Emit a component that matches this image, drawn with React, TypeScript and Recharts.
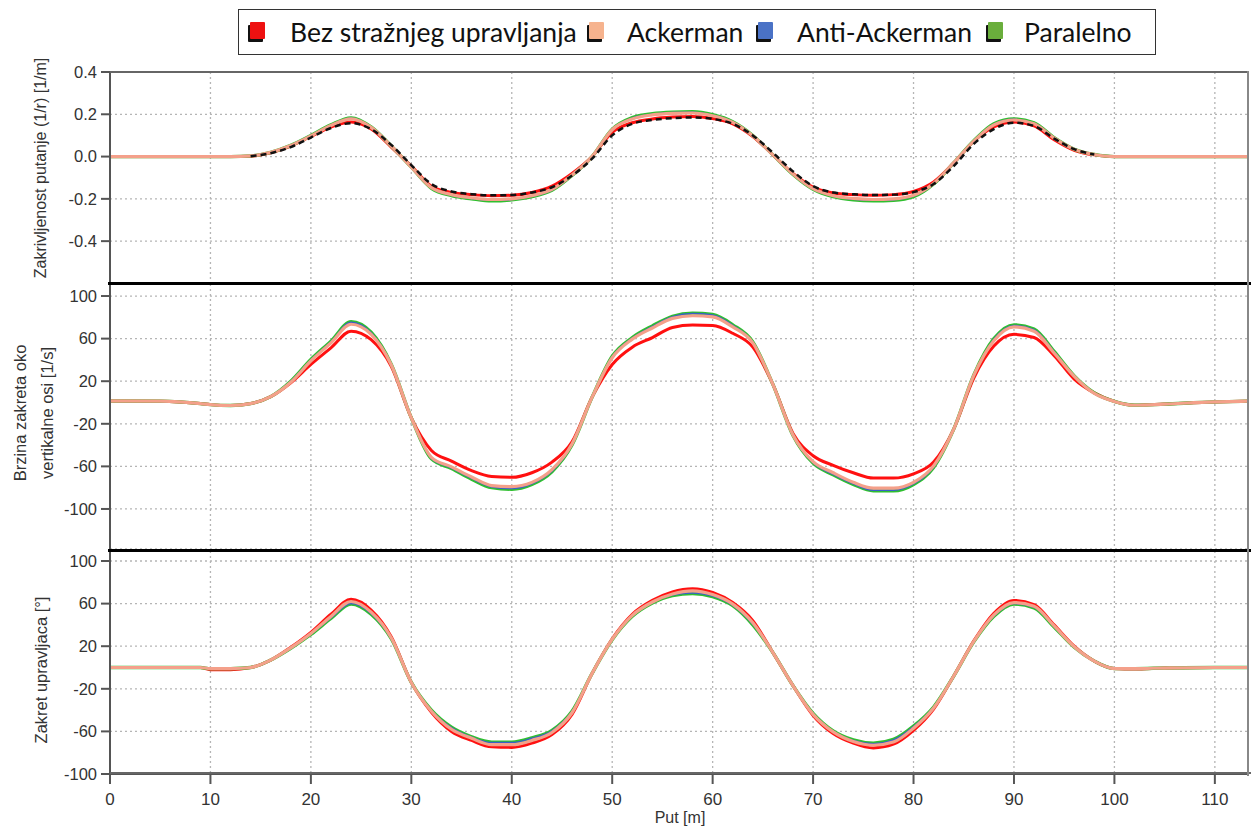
import React from 'react';
import { LineChart, Line, XAxis, YAxis, CartesianGrid } from 'recharts';

// ---------- data ----------
const xs = [0, 5, 9, 10, 12, 14, 16, 18, 20, 22, 24, 26, 28, 30, 32, 34, 36, 38, 40, 42, 44, 46, 48, 50, 52, 54, 56, 58, 60, 62, 64, 66, 68, 70, 72, 74, 76, 78, 80, 82, 84, 86, 88, 90, 92, 94, 96, 98, 100, 102, 105, 110, 113.3];

const seriesNames = ['Bez stražnjeg upravljanja', 'Ackerman', 'Anti-Ackerman', 'Paralelno'];
const xTicks = [0, 10, 20, 30, 40, 50, 60, 70, 80, 90, 100, 110];

// Panel 1: Zakrivljenost putanje
const p1Ticks = [-0.4, -0.2, 0, 0.2, 0.4];
const p1Bez = [0, 0, 0, 0, 0, 0.002, 0.018, 0.05, 0.095, 0.14, 0.163, 0.13, 0.045, -0.045, -0.14, -0.17, -0.18, -0.185, -0.183, -0.17, -0.14, -0.08, 0.0, 0.115, 0.16, 0.178, 0.187, 0.19, 0.18, 0.155, 0.095, 0.008, -0.08, -0.145, -0.172, -0.18, -0.183, -0.18, -0.165, -0.12, -0.03, 0.072, 0.14, 0.163, 0.145, 0.08, 0.03, 0.008, 0, 0, 0, 0, 0];
const p1Ack = [0, 0, 0, 0, 0, 0.003, 0.02, 0.052, 0.098, 0.147, 0.178, 0.138, 0.05, -0.05, -0.147, -0.18, -0.195, -0.203, -0.2, -0.185, -0.155, -0.087, 0.0, 0.127, 0.178, 0.197, 0.204, 0.206, 0.193, 0.162, 0.098, 0.008, -0.083, -0.152, -0.185, -0.198, -0.203, -0.2, -0.183, -0.127, -0.03, 0.073, 0.15, 0.173, 0.155, 0.087, 0.034, 0.01, 0, 0, 0, 0, 0];
const p1Anti = [0, 0, 0, 0, 0, 0.003, 0.02, 0.053, 0.099, 0.149, 0.181, 0.139, 0.05, -0.05, -0.149, -0.183, -0.198, -0.207, -0.203, -0.188, -0.158, -0.089, 0.0, 0.129, 0.182, 0.2, 0.208, 0.21, 0.196, 0.164, 0.099, 0.008, -0.084, -0.154, -0.188, -0.202, -0.207, -0.204, -0.187, -0.129, -0.03, 0.074, 0.153, 0.176, 0.158, 0.089, 0.035, 0.01, 0, 0, 0, 0, 0];
const p1Par = [0, 0, 0, 0, 0, 0.003, 0.02, 0.053, 0.1, 0.15, 0.183, 0.14, 0.05, -0.05, -0.15, -0.185, -0.2, -0.21, -0.205, -0.19, -0.16, -0.09, 0.0, 0.13, 0.185, 0.203, 0.21, 0.212, 0.198, 0.165, 0.1, 0.008, -0.085, -0.155, -0.19, -0.205, -0.21, -0.207, -0.19, -0.13, -0.03, 0.075, 0.155, 0.178, 0.16, 0.09, 0.035, 0.01, 0, 0, 0, 0, 0];
const p1Ref = [null, null, null, null, null, 0.002, 0.016, 0.045, 0.09, 0.135, 0.158, 0.13, 0.055, -0.04, -0.13, -0.165, -0.178, -0.183, -0.182, -0.17, -0.145, -0.09, -0.01, 0.1, 0.155, 0.173, 0.182, 0.185, 0.178, 0.155, 0.1, 0.018, -0.07, -0.14, -0.17, -0.178, -0.182, -0.18, -0.168, -0.13, -0.045, 0.06, 0.13, 0.16, 0.145, 0.085, 0.035, 0.01, null, null, null, null, null];

// Panel 2: Brzina zakreta oko vertikalne osi
const p2Ticks = [-100, -60, -20, 20, 60, 100];
const p2Bez = [1.5, 1.2, -1, -2, -2.8, -1, 5.5, 18.5, 35.7, 51.3, 67, 59, 34, -14.5, -45, -55, -64, -69.5, -70.3, -66, -56, -37, 5, 35.7, 52, 61, 70.5, 72.7, 72.4, 65, 52, 17, -29, -50, -59, -66, -71, -71, -67, -56, -25, 23, 53, 64, 61, 44, 22, 9, 1, -2.6, -1.5, 0.5, 1.2];
const p2Ack = [1.5, 1.2, -1, -2, -2.8, -1, 5.5, 19, 39, 56, 73.5, 64, 35.5, -14.5, -51.5, -60.5, -70, -78, -79, -75, -63, -39, 5, 42, 59.5, 70, 79, 81.5, 80.5, 71, 56, 17, -30.5, -55.5, -66, -75, -80.5, -80.5, -75, -59.5, -25, 25.5, 58, 71, 67, 46.5, 24.5, 8.5, 1, -2.6, -1.5, 0.5, 1.2];
const p2Anti = [1.5, 1.2, -1, -2, -2.8, -1, 5.5, 19.8, 40, 57, 75.3, 65.5, 36, -14.5, -52.5, -61.5, -71.3, -79.3, -80.8, -76.3, -64.5, -39.8, 5, 43, 60.5, 71.4, 80.5, 83.5, 82.2, 72.5, 56.7, 17, -30.8, -56.5, -67.5, -76.4, -82.4, -82.4, -76.4, -60.6, -25, 25.8, 59.5, 72.4, 68.4, 47.6, 24.8, 8.8, 1, -2.6, -1.5, 0.5, 1.2];
const p2Par = [1.5, 1.2, -1, -2, -2.8, -1, 5.5, 20, 40.4, 57.6, 76, 66, 36, -14.5, -53, -62, -72, -80, -81.5, -77, -65, -40, 5, 43.5, 61, 72, 81, 84, 82.7, 73, 57, 17, -31, -57, -68, -77, -83, -83, -77, -61, -25, 26, 60, 73, 69, 48, 25, 9, 1, -2.6, -1.5, 0.5, 1.2];

// Panel 3: Zakret upravljaca
const p3Ticks = [-100, -60, -20, 20, 60, 100];
const p3Bez = [0, 0, 0, -2, -2, 0, 7, 19, 33, 50, 64, 54, 29, -14, -42, -60, -68.5, -74.5, -75, -71, -63, -44, -5.5, 27, 50, 63, 71, 74, 70.5, 61, 44, 14, -17, -45, -62, -71, -75.5, -72, -59, -39, -8, 25, 51, 63, 59, 40, 20, 6, -1, -1.5, -0.5, 0, 0];
const p3Ack = [0, 0, 0, -1, -1, 0, 7, 18.5, 32, 48, 62, 52, 28, -14, -41, -58, -66.5, -72.5, -72.5, -68.5, -61, -42.5, -5.5, 26.5, 49, 61.5, 69, 72, 68.5, 59.5, 42, 14, -17, -44, -60.5, -69.5, -73, -70, -57, -38, -8, 24.5, 49.5, 61, 57.5, 39, 19.5, 6, -1, -1, -0.5, 0, 0];
const p3Anti = [0, 0, 0, -1, -1, 0, 7, 18, 31.3, 46.5, 60, 50.5, 27, -14, -40.3, -56.5, -65.5, -70.5, -70.5, -66.5, -59.5, -41.3, -5.5, 26.2, 48.3, 61, 68, 70, 67, 58.3, 40.5, 14, -17, -43.3, -60, -68.5, -71.5, -68, -55.5, -37.3, -8, 24.2, 48.3, 60, 56.5, 38.3, 19.2, 6, -1, -1, -0.5, 0, 0];
const p3Par = [0, 0, 0, -1, -1, 0, 7, 18, 31, 46, 59.5, 50, 27, -14, -40, -56, -65, -70, -70, -66, -59, -41, -5.5, 26, 48, 60.5, 67.5, 69.5, 66.5, 58, 40, 14, -17, -43, -59.5, -68, -71, -67.5, -55, -37, -8, 24, 48, 59.5, 56, 38, 19, 6, -1, -1, -0.5, 0, 0];

// ---------- styling ----------
const FONT = '"Liberation Sans", Arial, sans-serif';
const C_BEZ = '#ff1010';
const C_ACK = '#f4a08a';
const C_ANTI = '#3a5fc8';
const C_PAR = '#2fbf2f';
const LEG_COLORS = ['#ee1111', '#f6b38e', '#4a72c6', '#6aae3c'];

const build = (a: number[], b: number[], c: number[], d: number[], r?: (number | null)[]) =>
  xs.map((x, i) => ({ x, bez: a[i], ack: b[i], anti: c[i], par: d[i], ref: r ? r[i] : null }));

const data1 = build(p1Bez, p1Ack, p1Anti, p1Par, p1Ref);
const data2 = build(p2Bez, p2Ack, p2Anti, p2Par);
const data3 = build(p3Bez, p3Ack, p3Anti, p3Par);

const tickStyle = { fill: '#333', fontSize: 16.5, fontFamily: FONT };

type PanelProps = {
  data: any[];
  domain: [number, number];
  ticks: number[];
  fmt?: (v: number) => string;
  top: number;
  height: number;
  mTop: number;
  mBottom: number;
  showX?: boolean;
  withRef?: boolean;
};

function Panel({ data, domain, ticks, fmt, top, height, mTop, mBottom, showX, withRef }: PanelProps) {
  return (
    <div style={{ position: 'absolute', left: 0, top }}>
      <LineChart width={1251} height={height} data={data} margin={{ top: mTop, right: 3, left: 50, bottom: mBottom }}>
        <CartesianGrid stroke="#b5b5b5" strokeDasharray="2 3" strokeWidth={1.3} />
        <XAxis
          dataKey="x"
          type="number"
          domain={[0, 113.3]}
          ticks={xTicks}
          allowDataOverflow
          hide={!showX}
          height={30}
          tickSize={10}
          tickMargin={9}
          tick={{ ...tickStyle, fontSize: 17 }}
          stroke="#555"
          strokeWidth={2}
        />
        <YAxis
          type="number"
          domain={domain}
          ticks={ticks}
          allowDataOverflow
          width={60}
          tickSize={9}
          tickMargin={4}
          tick={tickStyle}
          tickFormatter={fmt}
          stroke="#555"
          strokeWidth={2}
          interval={0}
        />
        <Line type="monotone" dataKey="bez" stroke={C_BEZ} strokeWidth={3} dot={false} isAnimationActive={false} />
        <Line type="monotone" dataKey="par" stroke={C_PAR} strokeWidth={3.3} dot={false} isAnimationActive={false} />
        <Line type="monotone" dataKey="anti" stroke={C_ANTI} strokeWidth={1.5} dot={false} isAnimationActive={false} />
        <Line type="monotone" dataKey="ack" stroke={C_ACK} strokeWidth={3.2} dot={false} isAnimationActive={false} />
        {withRef && (
          <Line type="monotone" dataKey="ref" stroke="#111" strokeWidth={2.5} strokeDasharray="6 4" dot={false} connectNulls={false} isAnimationActive={false} />
        )}
      </LineChart>
    </div>
  );
}

const hLine = (top: number, left: number, width: number, color: string, h: number) => (
  <div style={{ position: 'absolute', top, left, width, height: h, background: color }} />
);

const legendItems = [
  { box: 250, text: 290 },
  { box: 589, text: 627 },
  { box: 758, text: 797 },
  { box: 988, text: 1024 },
];

export default function App() {
  return (
    <div style={{ position: 'absolute', left: 0, top: 0, width: 1251, height: 830, background: '#fff', fontFamily: FONT, overflow: 'hidden' }}>
      {/* Legend */}
      <div style={{ position: 'absolute', left: 238, top: 9, width: 916, height: 44, border: '1.5px solid #333', background: '#fff' }} />
      {legendItems.map((it, i) => (
        <React.Fragment key={i}>
          <div style={{ position: 'absolute', left: it.box, top: 22, width: 15, height: 17, background: LEG_COLORS[i], boxShadow: '-2px 3px 0 #111', borderRadius: 1 }} />
          <div style={{ position: 'absolute', left: it.text, top: 14, fontSize: 26.5, lineHeight: '36px', fontFamily: 'Lato, "Open Sans", sans-serif', color: '#111', whiteSpace: 'nowrap' }}>
            {seriesNames[i]}
          </div>
        </React.Fragment>
      ))}

      <Panel data={data1} domain={[-0.598, 0.4]} ticks={p1Ticks} fmt={(v) => v.toFixed(1)} top={60} height={224} mTop={12} mBottom={1} withRef />
      <Panel data={data2} domain={[-137.6, 111.3]} ticks={p2Ticks} top={283} height={267} mTop={1} mBottom={1} />
      <Panel data={data3} domain={[-100, 109.4]} ticks={p3Ticks} top={549} height={281} mTop={2} mBottom={26} showX />

      {/* frame lines */}
      {hLine(71, 110, 1138, '#666', 2)}
      {hLine(282, 108, 1143, '#000', 2.5)}
      {hLine(549, 108, 1143, '#000', 2.5)}
      {hLine(772, 110, 1141, '#666', 1.5)}
      <div style={{ position: 'absolute', left: 1247, top: 71, width: 1.5, height: 705, background: '#888' }} />

      {/* axis titles */}
      <div style={{ position: 'absolute', left: 41, top: 168, transform: 'translate(-50%, -50%) rotate(-90deg)', fontSize: 16, color: '#333', whiteSpace: 'nowrap' }}>
        Zakrivljenost putanje (1/r) [1/m]
      </div>
      <div style={{ position: 'absolute', left: 34, top: 413, transform: 'translate(-50%, -50%) rotate(-90deg)', fontSize: 16.5, lineHeight: '27px', color: '#333', whiteSpace: 'nowrap', textAlign: 'center' }}>
        Brzina zakreta oko<br />vertikalne osi [1/s]
      </div>
      <div style={{ position: 'absolute', left: 41, top: 670, transform: 'translate(-50%, -50%) rotate(-90deg)', fontSize: 16.5, color: '#333', whiteSpace: 'nowrap' }}>
        Zakret upravljaca [°]
      </div>
      <div style={{ position: 'absolute', left: 680, top: 818, transform: 'translate(-50%, -50%)', fontSize: 16, color: '#333', whiteSpace: 'nowrap' }}>
        Put [m]
      </div>
    </div>
  );
}
